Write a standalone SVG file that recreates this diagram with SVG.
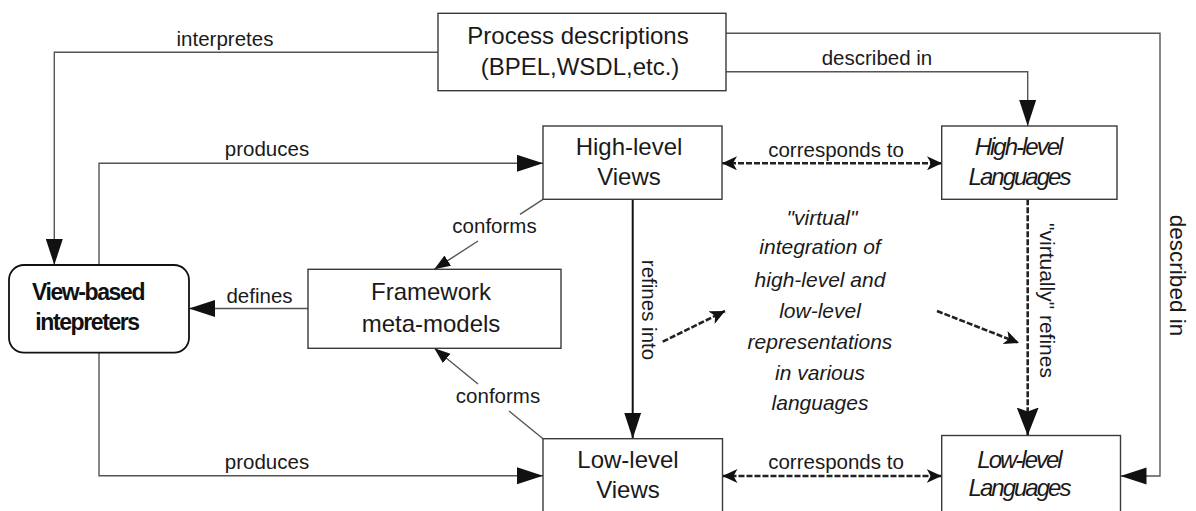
<svg xmlns="http://www.w3.org/2000/svg" width="1196" height="511" viewBox="0 0 1196 511">
<style>
.box{fill:#fff;stroke:#3a3a3a;stroke-width:1.4}
.t{font-family:"Liberation Sans",Arial,sans-serif;font-size:24px;fill:#1a1a1a;text-anchor:middle}
.it{font-family:"Liberation Sans",Arial,sans-serif;font-size:24px;font-style:italic;fill:#1a1a1a;text-anchor:middle;letter-spacing:-2px}
.bd{font-family:"Liberation Sans",Arial,sans-serif;font-size:23px;font-weight:bold;fill:#111;text-anchor:middle;letter-spacing:-1.4px}
.lb{font-family:"Liberation Sans",Arial,sans-serif;font-size:20.5px;fill:#1a1a1a;text-anchor:middle}
.ci{font-family:"Liberation Sans",Arial,sans-serif;font-size:21px;font-style:italic;fill:#1a1a1a;text-anchor:middle}
.ln{fill:none;stroke:#555;stroke-width:1.4}
.dl{fill:none;stroke:#222;stroke-width:2.6;stroke-dasharray:6 2}
</style>
<defs>
<marker id="big" markerUnits="userSpaceOnUse" markerWidth="27" markerHeight="18" refX="26" refY="8.5" orient="auto"><path d="M0,0 L26,8.5 L0,17 z" fill="#111"/></marker>
<marker id="sm" markerUnits="userSpaceOnUse" markerWidth="17" markerHeight="13" refX="16" refY="6" orient="auto"><path d="M0,0 L16,6 L0,12 z" fill="#111"/></marker>
<marker id="barb" markerUnits="userSpaceOnUse" markerWidth="16" markerHeight="14" refX="15" refY="7" orient="auto-start-reverse"><path d="M0,0 L15,7 L0,14 L4,7 z" fill="#111"/></marker>
<marker id="vbig" markerUnits="userSpaceOnUse" markerWidth="29" markerHeight="23" refX="28" refY="11" orient="auto"><path d="M0,0 L28,11 L0,22 L4,11 z" fill="#111"/></marker>
</defs>

<g id="connectors">
<polyline class="ln" points="438,52.3 54.3,52.3 54.3,265" marker-end="url(#big)"/>
<polyline class="ln" points="726,33.3 1160,33.3 1160,476 1120.5,476" marker-end="url(#big)"/>
<polyline class="ln" points="726,71.7 1027.7,71.7 1027.7,126" marker-end="url(#big)"/>
<polyline class="ln" points="99,265 99,163.3 543,163.3" marker-end="url(#big)"/>
<polyline class="ln" points="99,352.7 99,475.7 543,475.7" marker-end="url(#big)"/>
<line class="ln" x1="308" y1="308.5" x2="189" y2="308.5" marker-end="url(#big)"/>
<line x1="632.7" y1="199.3" x2="632.7" y2="438.7" stroke="#111" stroke-width="2" marker-end="url(#big)"/>
<line class="ln" x1="543" y1="199.3" x2="520" y2="214.3"/>
<line class="ln" x1="478" y1="241" x2="434.3" y2="269.3" marker-end="url(#sm)"/>
<line class="ln" x1="543" y1="438.7" x2="509" y2="411"/>
<line class="ln" x1="478" y1="384" x2="434.3" y2="348.3" marker-end="url(#sm)"/>
<line class="dl" x1="722" y1="163.3" x2="942" y2="163.3" marker-start="url(#barb)" marker-end="url(#barb)"/>
<line class="dl" x1="722.5" y1="476" x2="941.7" y2="476" marker-start="url(#barb)" marker-end="url(#barb)"/>
<line class="dl" x1="1027.7" y1="199.3" x2="1027.7" y2="435.5" marker-end="url(#vbig)"/>
<line class="dl" x1="662.7" y1="341.7" x2="725" y2="311" marker-end="url(#barb)"/>
<line class="dl" x1="937" y1="311" x2="1019" y2="343" marker-end="url(#barb)"/>
<text class="lb" x="225" y="46">interpretes</text>
<text class="lb" x="877" y="65">described in</text>
<text class="lb" x="267" y="156">produces</text>
<text class="lb" x="267" y="469">produces</text>
<text class="lb" x="836" y="157">corresponds to</text>
<text class="lb" x="836" y="469">corresponds to</text>
<text class="lb" x="494.5" y="233">conforms</text>
<text class="lb" x="498" y="403">conforms</text>
<text class="lb" x="259.5" y="303">defines</text>
<text class="lb" transform="translate(642,310) rotate(90)">refines into</text>
<text class="lb" style="font-size:21px" transform="translate(1040,300.5) rotate(90)">"virtually" refines</text>
<text class="lb" style="font-size:22.5px" transform="translate(1170,275.5) rotate(90)">described in</text>
</g>

<g id="process">
<rect class="box" x="438" y="13.3" width="288" height="77.4"/>
<text class="t" x="578" y="44">Process descriptions</text>
<text class="t" x="580" y="75">(BPEL,WSDL,etc.)</text>
</g>
<g id="high-views">
<rect class="box" x="543" y="126" width="179" height="73.3"/>
<text class="t" x="629" y="155">High-level</text>
<text class="t" x="629" y="185">Views</text>
</g>
<g id="high-languages">
<rect class="box" x="941.7" y="126" width="175.3" height="73.3"/>
<text class="it" x="1018" y="155">High-level</text>
<text class="it" x="1019" y="185">Languages</text>
</g>
<g id="framework">
<rect class="box" x="308" y="269.3" width="253" height="79"/>
<text class="t" x="431" y="300">Framework</text>
<text class="t" x="431" y="331.7">meta-models</text>
</g>
<g id="view-based">
<rect x="9" y="265" width="180" height="87.7" rx="15" ry="15" fill="#fff" stroke="#111" stroke-width="1.8"/>
<text class="bd" x="88" y="300">View-based</text>
<text class="bd" x="87" y="330">intepreters</text>
</g>
<g id="low-views">
<rect class="box" x="543" y="438.7" width="179.5" height="100"/>
<text class="t" x="628" y="468">Low-level</text>
<text class="t" x="628" y="498">Views</text>
</g>
<g id="low-languages">
<rect class="box" x="941.7" y="435.5" width="178.8" height="100"/>
<text class="it" x="1019" y="467.7">Low-level</text>
<text class="it" x="1019" y="496">Languages</text>
</g>
<g id="integration">
<text class="ci" x="822" y="225">"virtual"</text>
<text class="ci" x="820" y="254">integration of</text>
<text class="ci" x="820" y="287">high-level and</text>
<text class="ci" x="820" y="318">low-level</text>
<text class="ci" x="820" y="349">representations</text>
<text class="ci" x="820" y="380">in various</text>
<text class="ci" x="820" y="410">languages</text>
</g>
</svg>
